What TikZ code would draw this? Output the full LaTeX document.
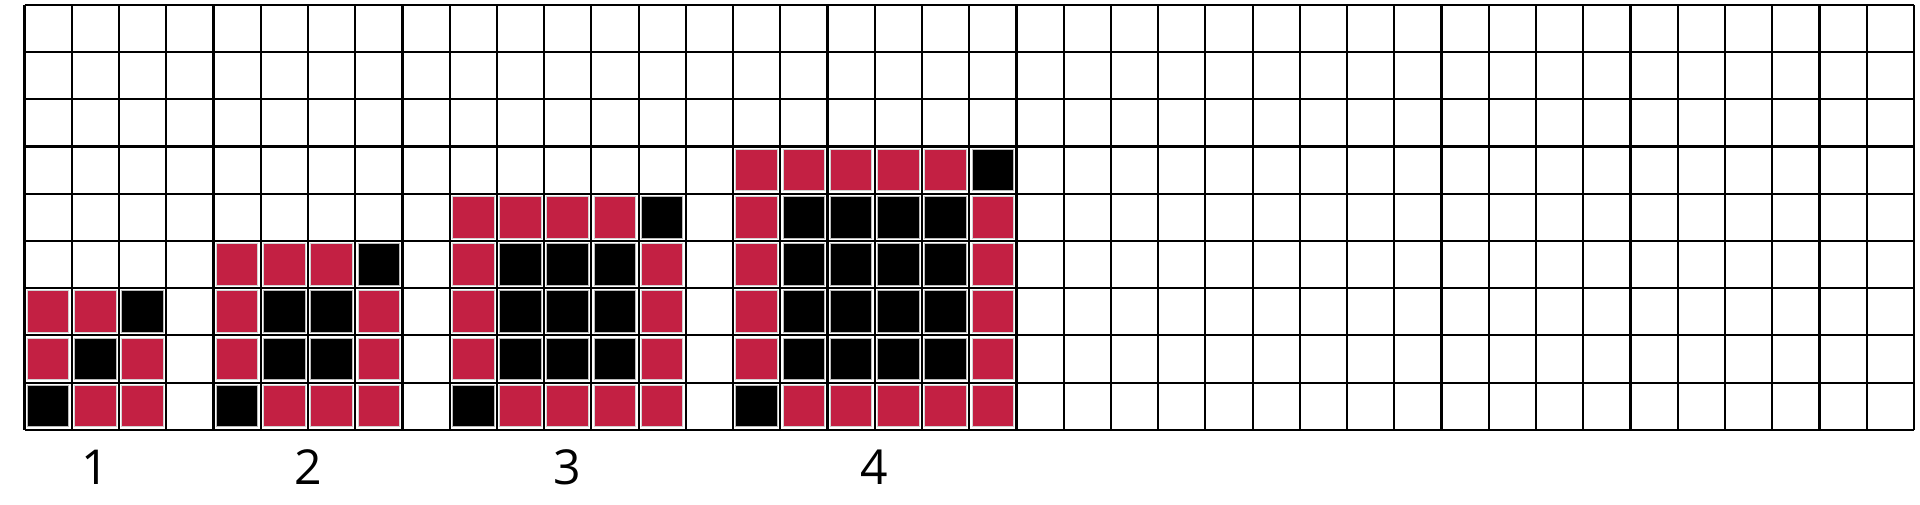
\documentclass[tikz,border=0pt]{standalone}
\usepackage{fontspec}
\setmainfont{Open Sans}
\definecolor{cellred}{RGB}{195,32,67}
\newcommand\gridcell[3]{\filldraw[#1] (#2+0.06,#3+0.06) rectangle (#2+0.94,#3+0.94);}
\begin{document}
\begin{tikzpicture}[x=1cm,y=1cm]
  \tikzstyle{redcell}=[fill=cellred,draw=gray!35,line width=0.6pt]
  \tikzstyle{blackcell}=[fill=black,draw=gray!55,line width=0.6pt]
  \tikzstyle{numlabel}=[font=\fontsize{29}{29}\selectfont,inner sep=0pt]
  \useasboundingbox (-0.52,-1.575) rectangle (40.13,9.1);
  % squared background
  \draw[line width=1.3pt] (0,0) grid (40,9);
  % the four figures, each n+2 cells wide
  \foreach \x/\n in {0/1,4/2,9/3,15/4} {
    \pgfmathtruncatemacro\m{\n+1}
    \foreach \i in {1,...,\m} {\gridcell{redcell}{\x+\i}{0}}
    \foreach \i in {0,...,\n} {\gridcell{redcell}{\x+\i}{\m}}
    \foreach \j in {1,...,\n} {
      \gridcell{redcell}{\x}{\j}
      \gridcell{redcell}{\x+\m}{\j}
      \foreach \i in {1,...,\n} {\gridcell{blackcell}{\x+\i}{\j}}
    }
    \gridcell{blackcell}{\x}{0}
    \gridcell{blackcell}{\x+\m}{\m}
    \node[numlabel] (lab\n) at (\x+\m/2+0.5,-0.79) {\n};
  }
\end{tikzpicture}
\end{document}
